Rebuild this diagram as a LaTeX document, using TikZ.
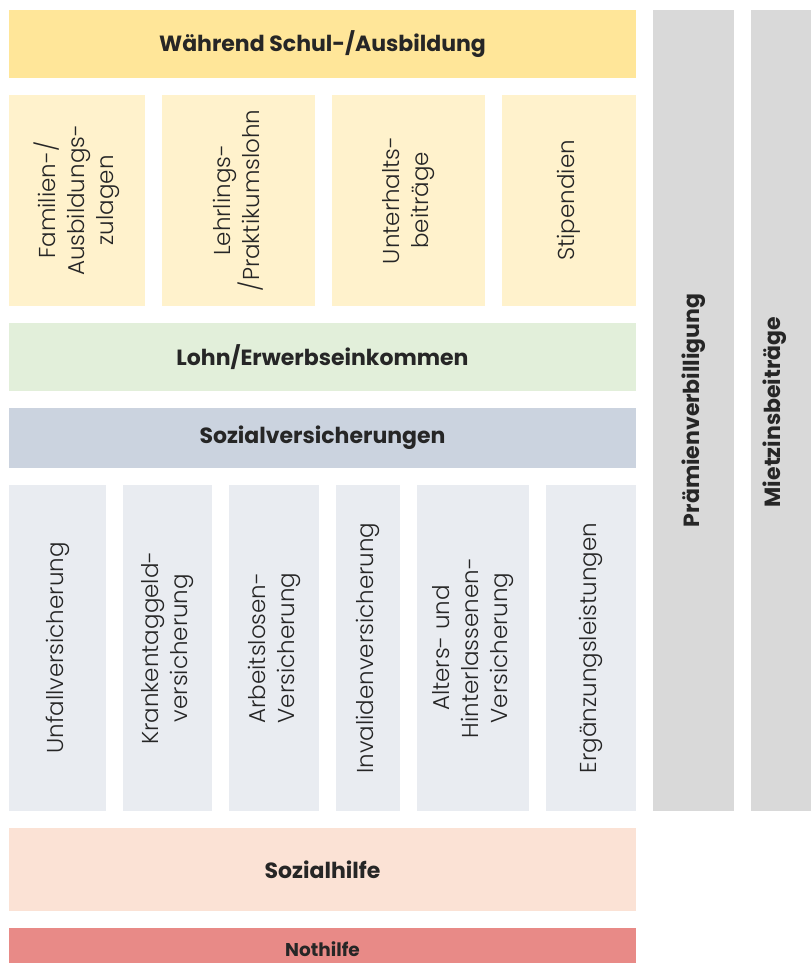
\documentclass[tikz,border=0pt]{standalone}
\usepackage{fontspec}
\setmainfont{Poppins}
\newfontfamily\thinfont{Poppins Light}
\definecolor{ink}{HTML}{262626}
\definecolor{gold}{HTML}{FFE699}
\definecolor{cream}{HTML}{FFF2CC}
\definecolor{mint}{HTML}{E2EFDA}
\definecolor{slate}{HTML}{CBD3DF}
\definecolor{mist}{HTML}{E9ECF1}
\definecolor{stone}{HTML}{D9D9D9}
\definecolor{peach}{HTML}{FBE2D5}
\definecolor{coral}{HTML}{E88A87}
\tikzset{
  band/.style={fill=#1, inner sep=0pt, text=ink,
    font=\bfseries\fontsize{22}{26}\selectfont},
  slab/.style={fill=#1, inner sep=0pt, text=ink, rotate=90, align=center,
    font=\thinfont\fontsize{23}{29}\selectfont},
  pillar/.style={fill=stone, inner sep=0pt, text=ink, rotate=90,
    font=\bfseries\fontsize{22}{26}\selectfont}
}
\begin{document}
\begin{tikzpicture}[x=1pt,y=-1pt]
\useasboundingbox (0,0) rectangle (811,963);

\node[band=gold, minimum width=627pt, minimum height=68pt] (school) at (322.5,44) {Während Schul-/Ausbildung};

\node[slab=cream, minimum width=211pt, minimum height=136pt] (family) at (77,200.3) {Familien-/\\Ausbildungs-\\zulagen};
\node[slab=cream, minimum width=211pt, minimum height=153pt] (apprentice) at (238.5,200.3) {Lehrlings-\\/Praktikumslohn};
\node[slab=cream, minimum width=211pt, minimum height=153pt] (alimony) at (408.5,200.3) {Unterhalts-\\beiträge};
\node[slab=cream, minimum width=211pt, minimum height=134pt] (grants) at (569,200.3) {Stipendien};

\node[band=mint, minimum width=627pt, minimum height=68pt] (wage) at (322.5,356.7) {Lohn/Erwerbseinkommen};
\node[band=slate, minimum width=627pt, minimum height=60pt] (insurance) at (322.5,437.7) {Sozialversicherungen};

\node[slab=mist, minimum width=326pt, minimum height=97pt] (accident) at (57.5,648) {Unfallversicherung};
\node[slab=mist, minimum width=326pt, minimum height=89pt] (sickpay) at (167.5,648) {Krankentaggeld-\\versicherung};
\node[slab=mist, minimum width=326pt, minimum height=90pt] (jobless) at (274,648) {Arbeitslosen-\\Versicherung};
\node[slab=mist, minimum width=326pt, minimum height=64pt] (disability) at (368,648) {Invalidenversicherung};
\node[slab=mist, minimum width=326pt, minimum height=112pt] (pension) at (473,648) {Alters- und\\Hinterlassenen-\\Versicherung};
\node[slab=mist, minimum width=326pt, minimum height=90pt] (supplement) at (591,648) {Ergänzungsleistungen};

\node[band=peach, minimum width=627pt, minimum height=83pt] (welfare) at (322.5,869.3) {Sozialhilfe};
\node[band=coral, minimum width=627pt, minimum height=42pt, font=\bfseries\fontsize{18.5}{22}\selectfont] (emergency) at (322.5,949) {Nothilfe};

\node[pillar, minimum width=801pt, minimum height=81pt] (premium) at (693.5,410.3) {Prämienverbilligung};
\node[pillar, minimum width=801pt, minimum height=60pt] (rent) at (781,410.3) {};
\node[text=ink, rotate=90, inner sep=0pt, font=\bfseries\fontsize{22}{26}\selectfont] (rentlabel) at (775,412) {Mietzinsbeiträge};
\end{tikzpicture}
\end{document}
